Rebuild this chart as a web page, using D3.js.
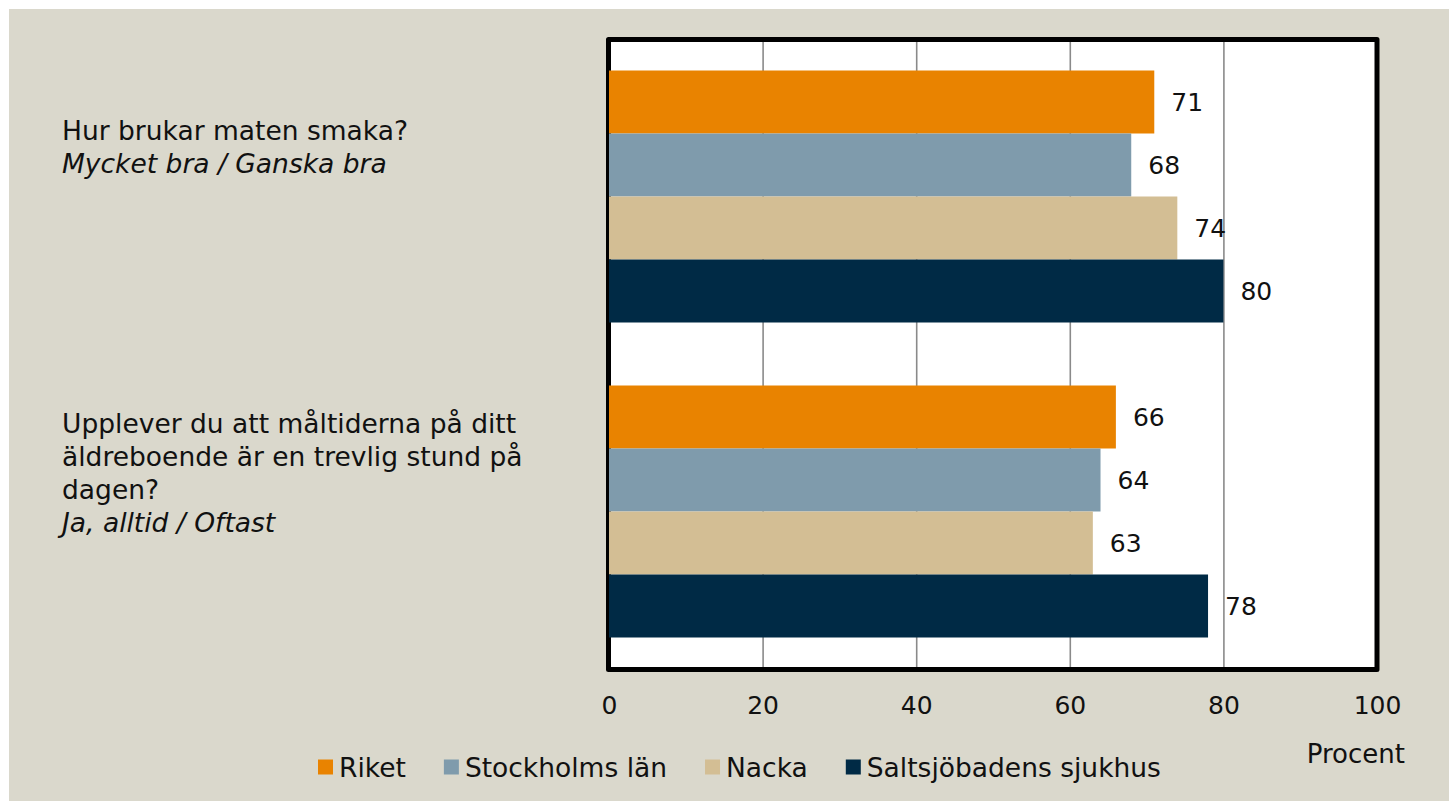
<!DOCTYPE html>
<html lang="sv">
<head>
  <meta charset="utf-8">
  <title>Maten</title>
  <style>
    body {
      margin: 0;
      background: #fff;
    }

    svg text {
      font-family: "DejaVu Sans", sans-serif;
      fill: #111;
    }

    .axis .domain {
      display: none;
    }
  </style>
</head>

<body>
  <script src="https://d3js.org/d3.v7.min.js"></script>
  <svg width="1449" height="801"></svg>
  <script>
    // data
    var questions = ["q1", "q2"];
    var questionLines = [
      ["Hur brukar maten smaka?"],
      ["Upplever du att måltiderna på ditt", "äldreboende är en trevlig stund på", "dagen?"]
    ];
    var answerLines = ["Mycket bra / Ganska bra", "Ja, alltid / Oftast"];

    var series = ["Riket", "Stockholms län", "Nacka", "Saltsjöbadens sjukhus"];
    var riket = [71, 66];
    var stockholm = [68, 64];
    var nacka = [74, 63];
    var saltsjo = [80, 78];
    var values = [riket, stockholm, nacka, saltsjo];

    var tickValues = [0, 20, 40, 60, 80, 100];
    var axisTitle = "Procent";

    // layout
    const svg = d3.select("svg");
    const plot = { left: 609, right: 1377, top: 39, bottom: 669 };
    const labelShift = [60, 38]; // first question line, from top of band
    const lineHeight = 33;
    const textSize = "26.5px";

    var color = d3.scaleOrdinal()
      .domain(series)
      .range(["#e98300", "#7f9bac", "#d3be94", "#002a45"]);

    var x = d3.scaleLinear()
      .domain([0, 100])
      .range([plot.left, plot.right]);

    var y = d3.scaleBand()
      .domain(questions)
      .range([plot.top, plot.bottom])
      .paddingInner(0.2)
      .paddingOuter(0.1);

    var ySub = d3.scaleBand()
      .domain(series)
      .range([0, y.bandwidth()]);

    // beige background
    svg.append("rect")
      .attr("x", 9).attr("y", 9)
      .attr("width", 1449).attr("height", 801)
      .attr("fill", "#dad8cc");

    // plot area
    svg.append("rect")
      .attr("x", plot.left).attr("y", plot.top)
      .attr("width", plot.right - plot.left)
      .attr("height", plot.bottom - plot.top)
      .attr("fill", "#fff");

    // gridlines
    svg.append("g")
      .attr("class", "grid axis")
      .attr("transform", "translate(0," + plot.bottom + ")")
      .call(d3.axisBottom(x)
        .tickValues(tickValues.filter(function (d) { return d > 0 && d < 100; }))
        .tickSize(-(plot.bottom - plot.top))
        .tickFormat(""))
      .selectAll(".tick line")
      .attr("stroke", "#8a8a8a")
      .attr("stroke-width", 1.6);

    // frame
    svg.append("rect")
      .attr("x", plot.left - 0.5).attr("y", plot.top + 0.5)
      .attr("width", plot.right - plot.left + 0.5)
      .attr("height", plot.bottom - plot.top)
      .attr("fill", "none")
      .attr("stroke", "#000")
      .attr("stroke-width", 5)
      .attr("stroke-linejoin", "round");

    // bars
    series.forEach(function (s, si) {
      var g = svg.append("g").attr("class", "series");
      g.selectAll("rect")
        .data(values[si])
        .enter().append("rect")
        .attr("x", x(0))
        .attr("y", function (d, i) { return y(questions[i]) + ySub(s); })
        .attr("width", function (d) { return x(d) - x(0); })
        .attr("height", ySub.bandwidth())
        .attr("fill", color(s));

      g.selectAll("text")
        .data(values[si])
        .enter().append("text")
        .attr("x", function (d) { return x(d) + 17; })
        .attr("y", function (d, i) { return y(questions[i]) + ySub(s) + ySub.bandwidth() / 2; })
        .attr("dy", "0.36em")
        .style("font-size", "25px")
        .text(function (d) { return d; });
    });

    // x axis labels
    var xAxis = svg.append("g")
      .attr("class", "x axis")
      .attr("transform", "translate(0," + plot.bottom + ")")
      .call(d3.axisBottom(x).tickValues(tickValues).tickSize(0).tickPadding(27));
    xAxis.selectAll("text")
      .style("font-size", "25px")
      .style("font-family", "DejaVu Sans, sans-serif")
      .attr("fill", "#111");

    svg.append("text")
      .attr("x", 1405)
      .attr("y", 754)
      .attr("dy", "0.36em")
      .attr("text-anchor", "end")
      .style("font-size", "26px")
      .text(axisTitle);

    // question labels
    questions.forEach(function (q, i) {
      var t = svg.append("text")
        .attr("x", 62)
        .attr("y", y(q) + labelShift[i])
        .style("font-size", textSize);
      var lines = questionLines[i].concat([answerLines[i]]);
      lines.forEach(function (line, li) {
        t.append("tspan")
          .attr("x", 62)
          .attr("dy", li === 0 ? "0.36em" : lineHeight)
          .style("font-style", li === lines.length - 1 ? "italic" : "normal")
          .text(line);
      });
    });

    // legend
    var legend = svg.append("g").attr("class", "legend");
    var lx = 318;
    series.forEach(function (s) {
      legend.append("rect")
        .attr("x", lx).attr("y", 759.5)
        .attr("width", 15).attr("height", 15)
        .attr("fill", color(s));
      var t = legend.append("text")
        .attr("x", lx + 21)
        .attr("y", 767)
        .attr("dy", "0.36em")
        .style("font-size", textSize)
        .text(s);
      lx += 21 + t.node().getComputedTextLength() + 38;
    });
  </script>
</body>

</html>
